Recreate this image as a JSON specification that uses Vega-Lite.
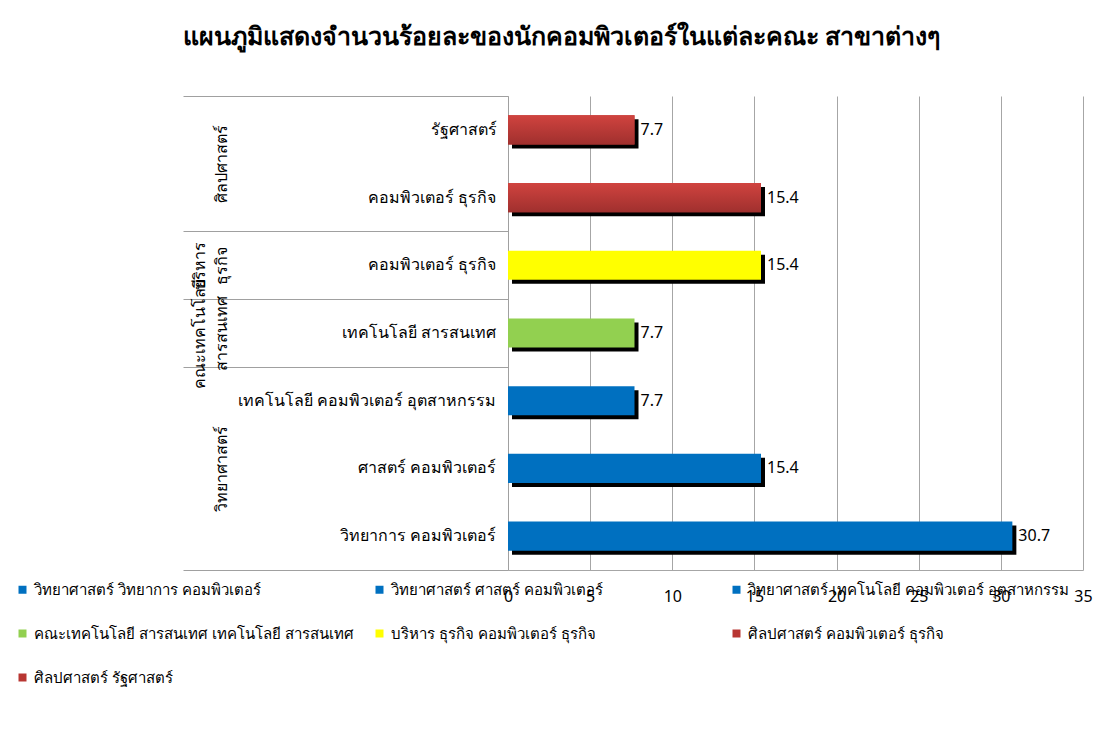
{
  "$schema": "https://vega.github.io/schema/vega-lite/v6.json",
  "autosize": {"type": "none"},
  "width": 575,
  "height": 474,
  "padding": {"left": 508, "top": 96, "right": 26, "bottom": 177},
  "config": {
    "font": "Tahoma, Noto Sans, DejaVu Sans, sans-serif",
    "view": {"stroke": null},
    "axis": {"labelColor": "#000000", "labelFont": "Tahoma, Noto Sans, DejaVu Sans, sans-serif"},
    "legend": {"labelFont": "Tahoma, Noto Sans, DejaVu Sans, sans-serif"}
  },
  "title": {
    "text": "แผนภูมิแสดงจำนวนร้อยละของนักคอมพิวเตอร์ในแต่ละคณะ สาขาต่างๆ",
    "fontSize": 25,
    "fontWeight": "bold",
    "color": "#000000",
    "anchor": "middle",
    "dx": -234,
    "offset": 46
  },
  "data": {
    "values": [
      {"key": "ศิลปศาสตร์|รัฐศาสตร์", "series": "ศิลปศาสตร์ รัฐศาสตร์", "value": 7.7},
      {"key": "ศิลปศาสตร์|คอมพิวเตอร์ ธุรกิจ", "series": "ศิลปศาสตร์ คอมพิวเตอร์ ธุรกิจ", "value": 15.4},
      {"key": "บริหาร ธุรกิจ|คอมพิวเตอร์ ธุรกิจ", "series": "บริหาร ธุรกิจ คอมพิวเตอร์ ธุรกิจ", "value": 15.4},
      {"key": "คณะเทคโนโลยี สารสนเทศ|เทคโนโลยี สารสนเทศ", "series": "คณะเทคโนโลยี สารสนเทศ เทคโนโลยี สารสนเทศ", "value": 7.7},
      {"key": "วิทยาศาสตร์|เทคโนโลยี คอมพิวเตอร์ อุตสาหกรรม", "series": "วิทยาศาสตร์ เทคโนโลยี คอมพิวเตอร์ อุตสาหกรรม", "value": 7.7},
      {"key": "วิทยาศาสตร์|ศาสตร์ คอมพิวเตอร์", "series": "วิทยาศาสตร์ ศาสตร์ คอมพิวเตอร์", "value": 15.4},
      {"key": "วิทยาศาสตร์|วิทยาการ คอมพิวเตอร์", "series": "วิทยาศาสตร์ วิทยาการ คอมพิวเตอร์", "value": 30.7}
    ]
  },
  "layer": [
    {
      "encoding": {
        "y": {
          "field": "key",
          "type": "nominal",
          "scale": {
            "domain": ["ศิลปศาสตร์|รัฐศาสตร์", "ศิลปศาสตร์|คอมพิวเตอร์ ธุรกิจ", "บริหาร ธุรกิจ|คอมพิวเตอร์ ธุรกิจ", "คณะเทคโนโลยี สารสนเทศ|เทคโนโลยี สารสนเทศ", "วิทยาศาสตร์|เทคโนโลยี คอมพิวเตอร์ อุตสาหกรรม", "วิทยาศาสตร์|ศาสตร์ คอมพิวเตอร์", "วิทยาศาสตร์|วิทยาการ คอมพิวเตอร์"],
            "paddingInner": 0,
            "paddingOuter": 0
          },
          "axis": {
            "title": null,
            "orient": "left",
            "labelExpr": "split(datum.value,'|')[1]",
            "labelFontSize": 16,
            "labelPadding": 12,
            "labelLimit": 400,
            "domainColor": "#a0a0a0",
            "ticks": false,
            "labelOverlap": false
          }
        },
        "x": {
          "field": "value",
          "type": "quantitative",
          "scale": {"domain": [0, 35], "nice": false},
          "axis": {
            "title": null,
            "values": [0, 5, 10, 15, 20, 25, 30, 35],
            "grid": true,
            "gridColor": "#a6a6a6",
            "domainColor": "#a6a6a6",
            "ticks": false,
            "labelFontSize": 16,
            "labelPadding": 18,
            "labelFlush": false
          }
        }
      },
      "layer": [
        {
          "mark": {"type": "bar", "color": "#000000", "xOffset": 4, "yOffset": 4, "height": {"band": 0.43}},
          "encoding": {}
        },
        {
          "mark": {"type": "bar", "height": {"band": 0.43}},
          "encoding": {
            "color": {
              "field": "series",
              "type": "nominal",
              "scale": {
                "domain": ["วิทยาศาสตร์ วิทยาการ คอมพิวเตอร์", "วิทยาศาสตร์ ศาสตร์ คอมพิวเตอร์", "วิทยาศาสตร์ เทคโนโลยี คอมพิวเตอร์ อุตสาหกรรม", "คณะเทคโนโลยี สารสนเทศ เทคโนโลยี สารสนเทศ", "บริหาร ธุรกิจ คอมพิวเตอร์ ธุรกิจ", "ศิลปศาสตร์ คอมพิวเตอร์ ธุรกิจ", "ศิลปศาสตร์ รัฐศาสตร์"],
                "range": ["#0070C0", "#0070C0", "#0070C0", "#92D050", "#FFFF00", "#B83632", "#B83632"]
              },
              "legend": {
                "title": null,
                "orient": "none",
                "legendX": -493,
                "legendY": 486,
                "direction": "horizontal",
                "columns": 3,
                "gridAlign": "all",
                "columnPadding": 17,
                "rowPadding": 28,
                "symbolType": "square",
                "symbolSize": 64,
                "symbolStrokeWidth": 0,
                "symbolOffset": 0,
                "labelOffset": 4,
                "labelFontSize": 15,
                "labelColor": "#000000",
                "labelLimit": 400
              }
            }
          }
        },
        {
          "transform": [{"filter": "indexof(datum.series, 'ศิลปศาสตร์') == 0"}],
          "mark": {
            "type": "bar",
            "height": {"band": 0.43},
            "color": {"gradient": "linear", "x1": 0, "y1": 0, "x2": 0, "y2": 1, "stops": [{"offset": 0, "color": "#D0433F"}, {"offset": 1, "color": "#A0302E"}]}
          },
          "encoding": {}
        },
        {
          "mark": {"type": "text", "align": "left", "baseline": "middle", "dx": 6, "fontSize": 16, "color": "#000000"},
          "encoding": {
            "text": {"field": "value", "type": "quantitative", "format": ".1f"}
          }
        }
      ]
    },
    {
      "mark": {"type": "text", "text": ""},
      "encoding": {
        "y": {
          "field": "key",
          "type": "nominal",
          "scale": {
            "domain": ["ศิลปศาสตร์|รัฐศาสตร์", "ศิลปศาสตร์|คอมพิวเตอร์ ธุรกิจ", "บริหาร ธุรกิจ|คอมพิวเตอร์ ธุรกิจ", "คณะเทคโนโลยี สารสนเทศ|เทคโนโลยี สารสนเทศ", "วิทยาศาสตร์|เทคโนโลยี คอมพิวเตอร์ อุตสาหกรรม", "วิทยาศาสตร์|ศาสตร์ คอมพิวเตอร์", "วิทยาศาสตร์|วิทยาการ คอมพิวเตอร์"],
            "paddingInner": 0,
            "paddingOuter": 0
          },
          "axis": {
            "title": null,
            "orient": "left",
            "domain": false,
            "ticks": true,
            "tickBand": "extent",
            "tickSize": 325,
            "tickColor": "#a0a0a0",
            "tickOpacity": {"condition": {"test": "datum.extra || indexof(['ศิลปศาสตร์|คอมพิวเตอร์ ธุรกิจ','บริหาร ธุรกิจ|คอมพิวเตอร์ ธุรกิจ','คณะเทคโนโลยี สารสนเทศ|เทคโนโลยี สารสนเทศ','วิทยาศาสตร์|วิทยาการ คอมพิวเตอร์'], datum.value) >= 0", "value": 1}, "value": 0},
            "labelAngle": -90,
            "labelAlign": "center",
            "labelBaseline": "bottom",
            "labelPadding": {"condition": {"test": "datum.value == 'บริหาร ธุรกิจ|คอมพิวเตอร์ ธุรกิจ' || datum.value == 'คณะเทคโนโลยี สารสนเทศ|เทคโนโลยี สารสนเทศ'", "value": -24}, "value": -46},
            "labelFontSize": 16,
            "labelOverlap": false,
            "labelBound": false,
            "labelLimit": 300,
            "labelLineHeight": 22,
            "labelOffset": {"condition": {"test": "datum.value == 'ศิลปศาสตร์|คอมพิวเตอร์ ธุรกิจ'", "value": -34}, "value": 0},
            "labelExpr": "datum.value == 'ศิลปศาสตร์|คอมพิวเตอร์ ธุรกิจ' ? 'ศิลปศาสตร์' : datum.value == 'บริหาร ธุรกิจ|คอมพิวเตอร์ ธุรกิจ' ? ['บริหาร','ธุรกิจ'] : datum.value == 'คณะเทคโนโลยี สารสนเทศ|เทคโนโลยี สารสนเทศ' ? ['คณะเทคโนโลยี','สารสนเทศ'] : datum.value == 'วิทยาศาสตร์|ศาสตร์ คอมพิวเตอร์' ? 'วิทยาศาสตร์' : ''"
          }
        }
      }
    }
  ],
  "resolve": {"scale": {"y": "independent"}, "axis": {"y": "independent"}}
}
